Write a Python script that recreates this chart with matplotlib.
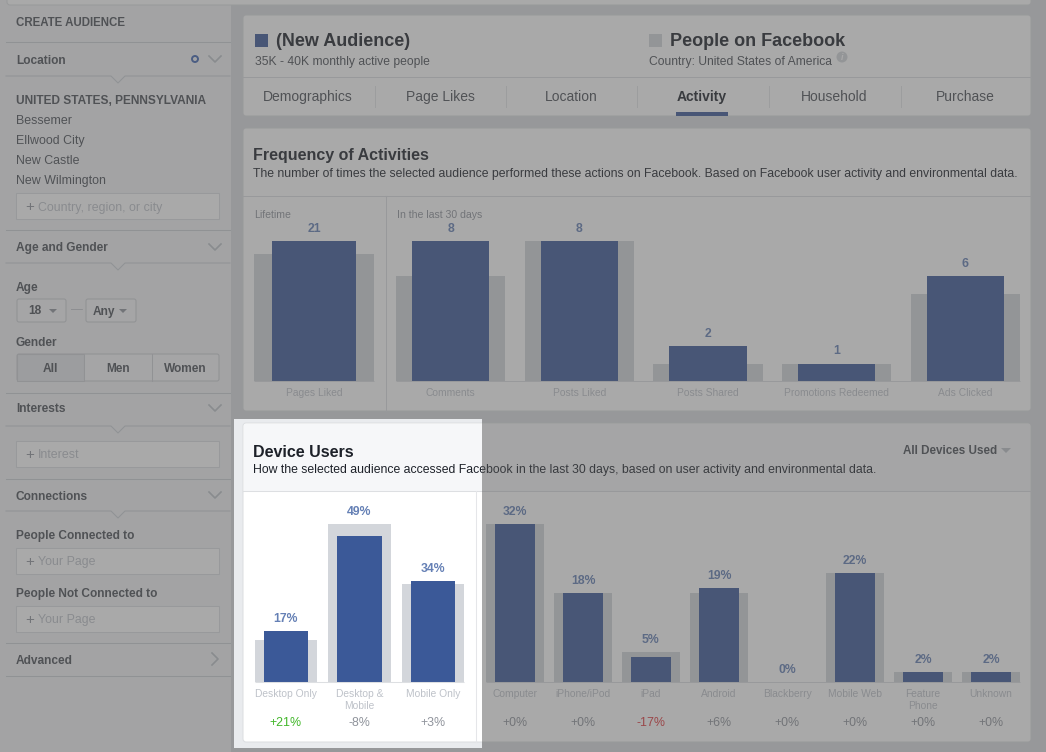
import matplotlib.pyplot as plt
from matplotlib.patches import FancyBboxPatch, Rectangle, Circle, Polygon

# ---- data ----
life_labels = ['Pages Liked']
life_audience = [21]
life_facebook = [19]

month_labels = ['Comments', 'Posts Liked', 'Posts Shared', 'Promotions Redeemed', 'Ads Clicked']
month_audience = [8, 8, 2, 1, 6]
month_facebook = [6, 8, 1, 1, 5]

combo_labels = ['Desktop Only', 'Desktop &\nMobile', 'Mobile Only']
combo_audience = [17, 49, 34]
combo_facebook = [14, 53, 33]
combo_change = [21, -8, 3]

device_labels = ['Computer', 'iPhone/iPod', 'iPad', 'Android', 'Blackberry',
                 'Mobile Web', 'Feature\nPhone', 'Unknown']
device_audience = [32, 18, 5, 19, 0, 22, 2, 2]
device_facebook = [32, 18, 6, 18, 0, 22, 2, 2]
device_change = [0, 0, -17, 6, 0, 0, 0, 0]

tabs = ['Demographics', 'Page Likes', 'Location', 'Activity', 'Household', 'Purchase']
cities = ['Bessemer', 'Ellwood City', 'New Castle', 'New Wilmington']

# colours
DARK = '#1d2129'
MID = '#4b4f56'
GREY = '#90949c'
LIGHT = '#bec2c9'
BORDER = '#dddfe2'
BLUE = '#3b5998'
BARBG = '#d3d6db'
VALUE = '#6580b5'

W, H = 1046, 752
DY = 1.5  # va='center' sits a little high for this font
plt.rcParams['font.family'] = ['Liberation Sans', 'DejaVu Sans']

fig = plt.figure(figsize=(W / 100, H / 100), dpi=100, facecolor='#dadde1')
ax = fig.add_axes([0, 0, 1, 1])
ax.set_xlim(0, W)
ax.set_ylim(H, 0)
ax.axis('off')


def box(x0, y0, x1, y1, fc, ec='none', lw=0.75, r=0):
    if r:
        p = FancyBboxPatch((x0, y0), x1 - x0, y1 - y0, boxstyle=f"round,pad=0,rounding_size={r}",
                           fc=fc, ec=ec, lw=lw)
    else:
        p = Rectangle((x0, y0), x1 - x0, y1 - y0, fc=fc, ec=ec, lw=lw)
    ax.add_patch(p)


def txt(x, y, s, size, color=MID, weight='normal', ha='left', **kw):
    ax.text(x, y + DY, s, fontsize=size, color=color, fontweight=weight, ha=ha, va='center', **kw)


def hline(x0, x1, y, color='#ccd0d5', notch=False):
    if notch:
        ax.plot([x0, 111, 118, 125, x1], [y, y, y + 7, y, y], color=color, lw=0.75)
    else:
        ax.plot([x0, x1], [y, y], color=color, lw=0.75)


def chevron(y):
    ax.plot([209, 215, 221], [y - 3, y + 3, y - 3], color=LIGHT, lw=1.2)


def field(y0, y1, s):
    box(16, y0, 219, y1, 'white', ec=BORDER)
    txt(25, (y0 + y1) / 2 - 0.5, '+', 11, color=GREY)
    txt(38, (y0 + y1) / 2, s, 8.9, color=LIGHT)


# ---- sidebar ----
box(0, 0, 231, H, '#f2f3f5')
box(7, -6, 1031, 5, 'white', ec=BORDER, r=3)
txt(16, 21, 'CREATE AUDIENCE', 8.3, weight='bold')
hline(6, 230, 42)
txt(16, 59, 'Location', 8.6, weight='bold')
ax.add_patch(Circle((195, 59), 3, fc='none', ec='#4267b2', lw=1.4))
chevron(59)
hline(6, 230, 76, notch=True)
txt(16, 99, 'UNITED STATES, PENNSYLVANIA', 8.6, weight='bold')
for i, c in enumerate(cities):
    txt(16, 119 + 20.3 * i, c, 8.9)
field(193, 219, 'Country, region, or city')
hline(6, 230, 230)
txt(16, 247, 'Age and Gender', 8.6, weight='bold')
chevron(247)
hline(6, 230, 263, notch=True)
txt(16, 286, 'Age', 8.6, weight='bold')
box(17, 299, 66, 322, '#f6f7f9', ec='#ced0d4', r=2)
txt(35, 310, '18', 8.6, weight='bold', ha='center')
ax.add_patch(Polygon([(49, 309), (57, 309), (53, 313)], fc=GREY, ec='none'))
txt(77, 309, '\u2014', 8.6, color=LIGHT, ha='center')
box(86, 299, 136, 322, '#f6f7f9', ec='#ced0d4', r=2)
txt(104, 310, 'Any', 8.6, weight='bold', ha='center')
ax.add_patch(Polygon([(119, 309), (127, 309), (123, 313)], fc=GREY, ec='none'))
txt(16, 342, 'Gender', 8.6, weight='bold')
box(17, 354, 219, 381, '#f6f7f9', ec='#ced0d4', r=2)
box(17, 354, 84, 381, '#e4e6ea', ec='#ced0d4')
ax.plot([152, 152], [354, 381], color='#ced0d4', lw=0.75)
for x, s in [(50, 'All'), (118, 'Men'), (185, 'Women')]:
    txt(x, 367, s, 8.6, weight='bold', ha='center')
hline(6, 230, 393)
txt(16, 408, 'Interests', 8.6, weight='bold')
chevron(408)
hline(6, 230, 426, notch=True)
field(441, 467, 'Interest')
hline(6, 230, 479)
txt(16, 495, 'Connections', 8.6, weight='bold')
chevron(495)
hline(6, 230, 511, notch=True)
txt(16, 534, 'People Connected to', 8.6, weight='bold')
field(548, 574, 'Your Page')
txt(16, 592, 'People Not Connected to', 8.6, weight='bold')
field(606, 632, 'Your Page')
hline(6, 230, 643)
txt(16, 659, 'Advanced', 8.6, weight='bold')
ax.plot([212, 218, 212], [653, 659, 665], color=LIGHT, lw=1.2)
hline(6, 230, 676)

# ---- header panel ----
box(243, 15, 1031, 116, 'white', ec=BORDER, r=3)
box(255, 34, 268, 47, BLUE)
txt(276, 40, '(New Audience)', 13, color=DARK, weight='bold')
txt(255, 60, '35K - 40K monthly active people', 8.7)
box(649, 34, 662, 47, BARBG)
txt(670, 40, 'People on Facebook', 13, color=DARK, weight='bold')
txt(649, 60, 'Country: United States of America', 8.7)
ax.add_patch(Circle((842, 57), 5.5, fc='#d3d6db', ec='none'))
txt(842, 56, 'i', 6.5, color='white', ha='center', style='italic', weight='bold')
hline(243, 1031, 77, color=BORDER)
tab_x = [308, 440, 571, 702, 834, 965]
for x, s in zip(tab_x, tabs):
    active = s == 'Activity'
    txt(x, 95.5, s, 10, color=DARK if active else MID, weight='bold' if active else 'normal', ha='center')
for x in [375, 506, 637, 769, 901]:
    ax.plot([x, x], [86, 107], color='#e5e6e9', lw=0.75)
box(676, 112, 728, 116, BLUE)

# ---- frequency panel ----
box(243, 128, 1031, 411, 'white', ec=BORDER, r=3)
txt(253, 154, 'Frequency of Activities', 11.5, color=DARK, weight='bold')
txt(253, 173, 'The number of times the selected audience performed these actions on Facebook. '
    'Based on Facebook user activity and environmental data.', 8.8, color=DARK)
hline(243, 1031, 196, color=BORDER)
ax.plot([385.5, 385.5], [196, 411], color=BORDER, lw=0.75)
txt(254, 213, 'Lifetime', 7.6, color=GREY)
txt(397, 213, 'In the last 30 days', 7.6, color=GREY)

# ---- device panel ----
box(234, 419, 482, 748, '#e9ebee')
box(243, 423, 1031, 742, 'white', ec=BORDER, r=3)
box(244, 424, 1030, 491, '#f6f7f9')
hline(243, 1031, 491, color=BORDER)
txt(253, 451, 'Device Users', 11.5, color=DARK, weight='bold')
txt(253, 468, 'How the selected audience accessed Facebook in the last 30 days, '
    'based on user activity and environmental data.', 8.8, color=DARK)
txt(903, 450, 'All Devices Used', 8.4, weight='bold')
ax.add_patch(Polygon([(1001, 448), (1011, 448), (1006, 453)], fc=LIGHT, ec='none'))
ax.plot([476, 476], [491, 742], color='#e5e6e9', lw=0.75)


def bar_group(cx0, step, y_base, y_top, ymax, labels, aud, fb, pct, changes=None):
    n = len(labels)
    left = cx0 - step / 2
    right = cx0 + (n - 0.5) * step
    bax = fig.add_axes([left / W, 1 - y_base / H, (right - left) / W, (y_base - y_top) / H], zorder=1)
    bax.set_xlim(-0.5, n - 0.5)
    bax.set_ylim(0, ymax)
    bax.axis('off')
    xs = range(n)
    bax.bar(xs, fb, width=0.85, color=BARBG)
    bax.bar(xs, aud, width=0.6, color=BLUE)
    bax.hlines(0, -0.425, n - 0.575, color=BORDER, lw=0.75, clip_on=False)
    for i in xs:
        top = max(aud[i], fb[i])
        s = f'{aud[i]}%' if pct else f'{aud[i]}'
        bax.annotate(s, (i, top), xytext=(0, 12), textcoords='offset pixels', ha='center', va='center',
                     fontsize=8.8, fontweight='bold', color=VALUE, annotation_clip=False)
        bax.annotate(labels[i], (i, 0), xytext=(0, -7), textcoords='offset pixels', ha='center',
                     va='top', fontsize=7.4, color=LIGHT, linespacing=1.25, annotation_clip=False)
        if changes is not None:
            c = changes[i]
            col = '#42b72a' if c >= 10 else ('#e0393e' if c <= -10 else GREY)
            bax.annotate(f'{c:+d}%', (i, 0), xytext=(0, -41), textcoords='offset pixels', ha='center',
                         va='center', fontsize=8.9, color=col, annotation_clip=False)
    return bax


bar_group(314, 141, 381, 241, max(life_audience + life_facebook), life_labels, life_audience, life_facebook, False)
bar_group(450.5, 128.75, 381, 241, max(month_audience + month_facebook), month_labels, month_audience,
          month_facebook, False)
bar_group(286, 73.5, 682, 524, max(combo_audience + combo_facebook), combo_labels, combo_audience,
          combo_facebook, True, combo_change)
bar_group(515, 68, 682, 524, max(device_audience + device_facebook), device_labels, device_audience,
          device_facebook, True, device_change)

# ---- dimming overlay with the spotlight hole ----
ov = fig.add_axes([0, 0, 1, 1], zorder=10)
ov.set_xlim(0, W)
ov.set_ylim(H, 0)
ov.axis('off')
for x0, y0, x1, y1 in [(0, 0, W, 419), (0, 748, W, H), (0, 419, 234, 748), (482, 419, W, 748)]:
    ov.add_patch(Rectangle((x0, y0), x1 - x0, y1 - y0, fc='#555555', alpha=0.5, lw=0, antialiased=False))

fig.savefig('out.png', dpi=100, facecolor=fig.get_facecolor())
